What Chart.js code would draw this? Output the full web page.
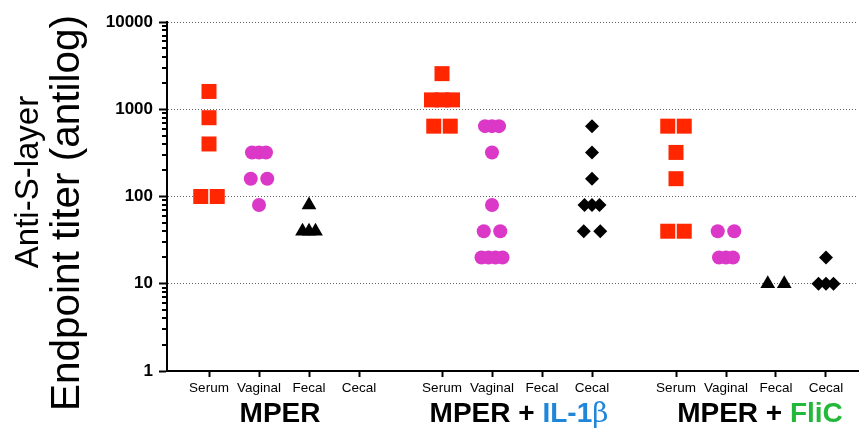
<!DOCTYPE html>
<html lang="en">
<head>
    <meta charset="UTF-8">
    <title>Anti-S-layer endpoint titers</title>
    <script src="https://cdn.jsdelivr.net/npm/chart.js@4"></script>
    <style>
        body {
            margin: 0;
            background: #fff;
        }
        #wrap {
            width: 859px;
            height: 428px;
        }
    </style>
</head>
<body>
<div id="wrap"><canvas id="chart" width="859" height="428"></canvas></div>
<script>
    // sample columns and immunization groups
    const samples = ['Serum', 'Vaginal', 'Fecal', 'Cecal'];
    const groupNames = ['MPER', 'MPER + IL-1β', 'MPER + FliC'];
    const groupStart = [0, 4.66, 9.34];

    // endpoint titers per animal
    const mperSerum = [1600, 800, 400, 100, 100];
    const mperVaginal = [320, 320, 320, 160, 160, 80];
    const mperFecal = [80, 40, 40, 40];
    const mperCecal = [];

    const il1Serum = [2560, 1280, 1280, 1280, 640, 640];
    const il1Vaginal = [640, 640, 640, 320, 80, 40, 40, 20, 20, 20, 20];
    const il1Fecal = [];
    const il1Cecal = [640, 320, 160, 80, 80, 80, 40, 40];

    const flicSerum = [640, 640, 320, 160, 40, 40];
    const flicVaginal = [40, 40, 20, 20, 20];
    const flicFecal = [10, 10];
    const flicCecal = [20, 10, 10, 10];

    const yMajor = [1, 10, 100, 1000, 10000];

    const FONT = "'Liberation Sans', Arial, sans-serif";

    // points with the same titer sit side by side
    function spread(values, center, wide, narrow) {
        const counts = {};
        values.forEach(v => counts[v] = (counts[v] || 0) + 1);
        const pts = [];
        Object.keys(counts).forEach(k => {
            const n = counts[k];
            const step = n === 2 ? wide : narrow;
            for (let i = 0; i < n; i++) {
                pts.push({x: center + (i - (n - 1) / 2) * step, y: Number(k)});
            }
        });
        return pts;
    }

    const serumSets = [mperSerum, il1Serum, flicSerum];
    const vaginalSets = [mperVaginal, il1Vaginal, flicVaginal];
    const fecalSets = [mperFecal, il1Fecal, flicFecal];
    const cecalSets = [mperCecal, il1Cecal, flicCecal];

    function column(sets, idx, narrow) {
        let pts = [];
        sets.forEach((vals, g) => {
            pts = pts.concat(spread(vals, groupStart[g] + idx, 0.33, narrow));
        });
        return pts;
    }

    const tickPos = [];
    const tickText = [];
    groupStart.forEach(s => samples.forEach((name, i) => {
        tickPos.push(s + i);
        tickText.push(name);
    }));

    // small ticks between the decades
    const minorTicks = {
        id: 'minorTicks',
        afterDraw(chart) {
            const ys = chart.scales.y;
            const ctx = chart.ctx;
            const x0 = chart.chartArea.left;
            ctx.save();
            ctx.strokeStyle = '#000';
            ctx.lineWidth = 2;
            for (let d = 1; d < 10000; d *= 10) {
                for (let m = 2; m < 10; m++) {
                    const y = Math.round(ys.getPixelForValue(d * m));
                    ctx.beginPath();
                    ctx.moveTo(x0 - 5, y);
                    ctx.lineTo(x0, y);
                    ctx.stroke();
                }
            }
            ctx.restore();
        }
    };

    // y title and the group captions under the axis
    const labels = {
        id: 'labels',
        afterDraw(chart) {
            const ctx = chart.ctx;
            ctx.save();
            ctx.fillStyle = '#000';
            ctx.textAlign = 'center';
            ctx.textBaseline = 'alphabetic';

            ctx.save();
            ctx.translate(38, 182);
            ctx.rotate(-Math.PI / 2);
            ctx.font = '33px ' + FONT;
            ctx.fillText('Anti-S-layer', 0, 0);
            ctx.restore();

            ctx.save();
            ctx.translate(79, 213);
            ctx.rotate(-Math.PI / 2);
            ctx.font = '40.5px ' + FONT;
            ctx.fillText('Endpoint titer (antilog)', 0, 0);
            ctx.restore();

            const bold = 'bold 28px ' + FONT;
            const parts = [
                [{t: 'MPER', c: '#000', f: bold}],
                [{t: 'MPER + ', c: '#000', f: bold}, {t: 'IL-1', c: '#1F86D9', f: bold},
                    {t: 'β', c: '#1F86D9', f: "28px 'DejaVu Serif', serif"}],
                [{t: 'MPER + ', c: '#000', f: bold}, {t: 'FliC', c: '#22B83A', f: bold}]
            ];
            const nudge = [-4, 2, 9];
            const xs = chart.scales.x;
            ctx.textAlign = 'left';
            parts.forEach((segs, g) => {
                const cx = xs.getPixelForValue(groupStart[g] + 1.5) + nudge[g];
                let w = 0;
                segs.forEach(s => { ctx.font = s.f; w += ctx.measureText(s.t).width; });
                let x = cx - w / 2;
                segs.forEach(s => {
                    ctx.font = s.f;
                    ctx.fillStyle = s.c;
                    ctx.fillText(s.t, x, 422);
                    x += ctx.measureText(s.t).width;
                });
            });
            ctx.restore();
        }
    };

    new Chart(document.getElementById('chart'), {
        type: 'scatter',
        data: {
            datasets: [
                {
                    label: 'Serum',
                    data: column(serumSets, 0, 0.21),
                    pointStyle: 'rect',
                    pointRadius: 10.6,
                    backgroundColor: '#FF2600',
                    borderColor: '#FF2600',
                    borderWidth: 0
                },
                {
                    label: 'Vaginal',
                    data: column(vaginalSets, 1, 0.14),
                    pointStyle: 'circle',
                    pointRadius: 7,
                    backgroundColor: '#DB38C7',
                    borderColor: '#DB38C7',
                    borderWidth: 0
                },
                {
                    label: 'Fecal',
                    data: column(fecalSets, 2, 0.13),
                    pointStyle: 'triangle',
                    pointRadius: 8.5,
                    backgroundColor: '#000',
                    borderColor: '#000',
                    borderWidth: 0
                },
                {
                    label: 'Cecal',
                    data: column(cecalSets, 3, 0.15),
                    pointStyle: 'rectRot',
                    pointRadius: 7,
                    backgroundColor: '#000',
                    borderColor: '#000',
                    borderWidth: 0
                }
            ]
        },
        options: {
            responsive: false,
            animation: false,
            devicePixelRatio: 1,
            layout: {autoPadding: false, padding: {top: 22, right: 1, left: 0, bottom: 0}},
            plugins: {
                legend: {display: false},
                tooltip: {enabled: false}
            },
            scales: {
                x: {
                    type: 'linear',
                    min: -0.84,
                    max: 12.98,
                    afterBuildTicks: s => { s.ticks = tickPos.map(v => ({value: v})); },
                    afterFit: s => {
                        s.height = 57;
                        s.paddingLeft = 0;
                        s.paddingRight = 0;
                    },
                    ticks: {
                        callback: (v, i) => tickText[i],
                        font: {family: FONT, size: 13.5},
                        color: '#000',
                        padding: 3,
                        maxRotation: 0,
                        autoSkip: false
                    },
                    grid: {
                        drawOnChartArea: false,
                        tickLength: 6,
                        tickWidth: 2,
                        tickColor: '#000',
                        tickBorderDash: []
                    },
                    border: {color: '#000', width: 2}
                },
                y: {
                    type: 'logarithmic',
                    min: 1,
                    max: 10000,
                    afterBuildTicks: s => { s.ticks = yMajor.map(v => ({value: v, major: true})); },
                    afterFit: s => { s.width = 167; },
                    ticks: {
                        callback: v => String(v),
                        font: {family: FONT, size: 17, weight: 'bold'},
                        color: '#000',
                        padding: 6,
                        autoSkip: false
                    },
                    grid: {
                        color: c => c.tick && c.tick.value > 1 ? '#666' : 'rgba(0,0,0,0)',
                        lineWidth: 1,
                        tickLength: 8,
                        tickWidth: 2,
                        tickColor: '#000',
                        tickBorderDash: []
                    },
                    border: {color: '#000', width: 2, dash: [1, 2]}
                }
            }
        },
        plugins: [minorTicks, labels]
    });
</script>
</body>
</html>
